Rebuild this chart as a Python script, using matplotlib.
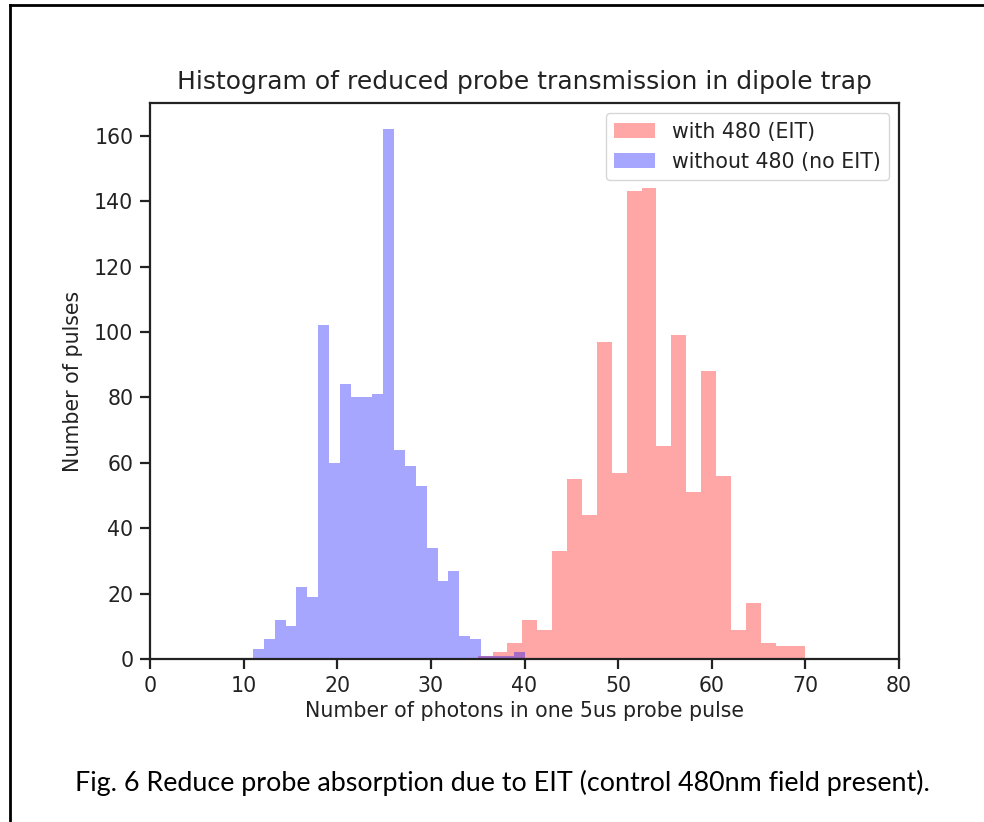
import numpy as np
import matplotlib
matplotlib.use("Agg")
import matplotlib.pyplot as plt
from matplotlib.lines import Line2D

# ---- data ----
eit_counts = [1, 2, 5, 12, 9, 33, 55, 44, 97, 57, 143, 144, 65, 99, 51, 88, 56, 9, 17, 5, 4, 4]
eit_range = (35, 70)
noeit_counts = [3, 6, 12, 10, 22, 19, 102, 60, 84, 80, 80, 81, 162, 64, 59, 53, 34, 24, 27, 7, 6, 1, 1, 1, 2]
noeit_range = (11, 40)
labels = ["with 480 (EIT)", "without 480 (no EIT)"]
xticks = [0, 10, 20, 30, 40, 50, 60, 70, 80]
yticks = [0, 20, 40, 60, 80, 100, 120, 140, 160]
title = "Histogram of reduced probe transmission in dipole trap"
xlabel = "Number of photons in one 5us probe pulse"
ylabel = "Number of pulses"
caption = "Fig. 6 Reduce probe absorption due to EIT (control 480nm field present)."

fs = 14.8
fig = plt.figure(figsize=(9.84, 8.22), dpi=100)
ax = fig.add_axes([150/984, 1-659/822, (899-150)/984, (659-103)/822])

def draw(counts, rng, color, label):
    edges = np.linspace(rng[0], rng[1], len(counts) + 1)
    centers = (edges[:-1] + edges[1:]) / 2
    ax.hist(centers, bins=edges, weights=counts, color=color, alpha=0.35, label=label)

draw(eit_counts, eit_range, "red", labels[0])
draw(noeit_counts, noeit_range, "blue", labels[1])

ax.set_xlim(0, 80)
ax.set_ylim(0, 170)
ax.set_xticks(xticks)
ax.set_yticks(yticks)
for s in ax.spines.values():
    s.set_linewidth(1.6)
    s.set_color("#222222")
ax.tick_params(labelsize=fs, length=7, width=1.6, pad=5, colors="#222222")
ax.set_title(title, fontsize=18, pad=10, color="#222222")
ax.set_xlabel(xlabel, fontsize=fs, labelpad=4, color="#222222")
ax.set_ylabel(ylabel, fontsize=fs, labelpad=8, color="#222222")
leg = ax.legend(loc="upper right", fontsize=fs, borderaxespad=0.5)
for t in leg.get_texts():
    t.set_color("#222222")

fig.text(502/984, 1-783/822, caption, ha="center", va="center",
         fontsize=19.4, family=["Lato", "DejaVu Sans"], color="black")

# partial frame around the figure (top and left edges)
fig.add_artist(Line2D([10/984, 1.0], [1-5/822, 1-5/822], color="black", lw=2, transform=fig.transFigure))
fig.add_artist(Line2D([10/984, 10/984], [0, 1-5/822], color="black", lw=2, transform=fig.transFigure))

fig.savefig("out.png", dpi=100)
